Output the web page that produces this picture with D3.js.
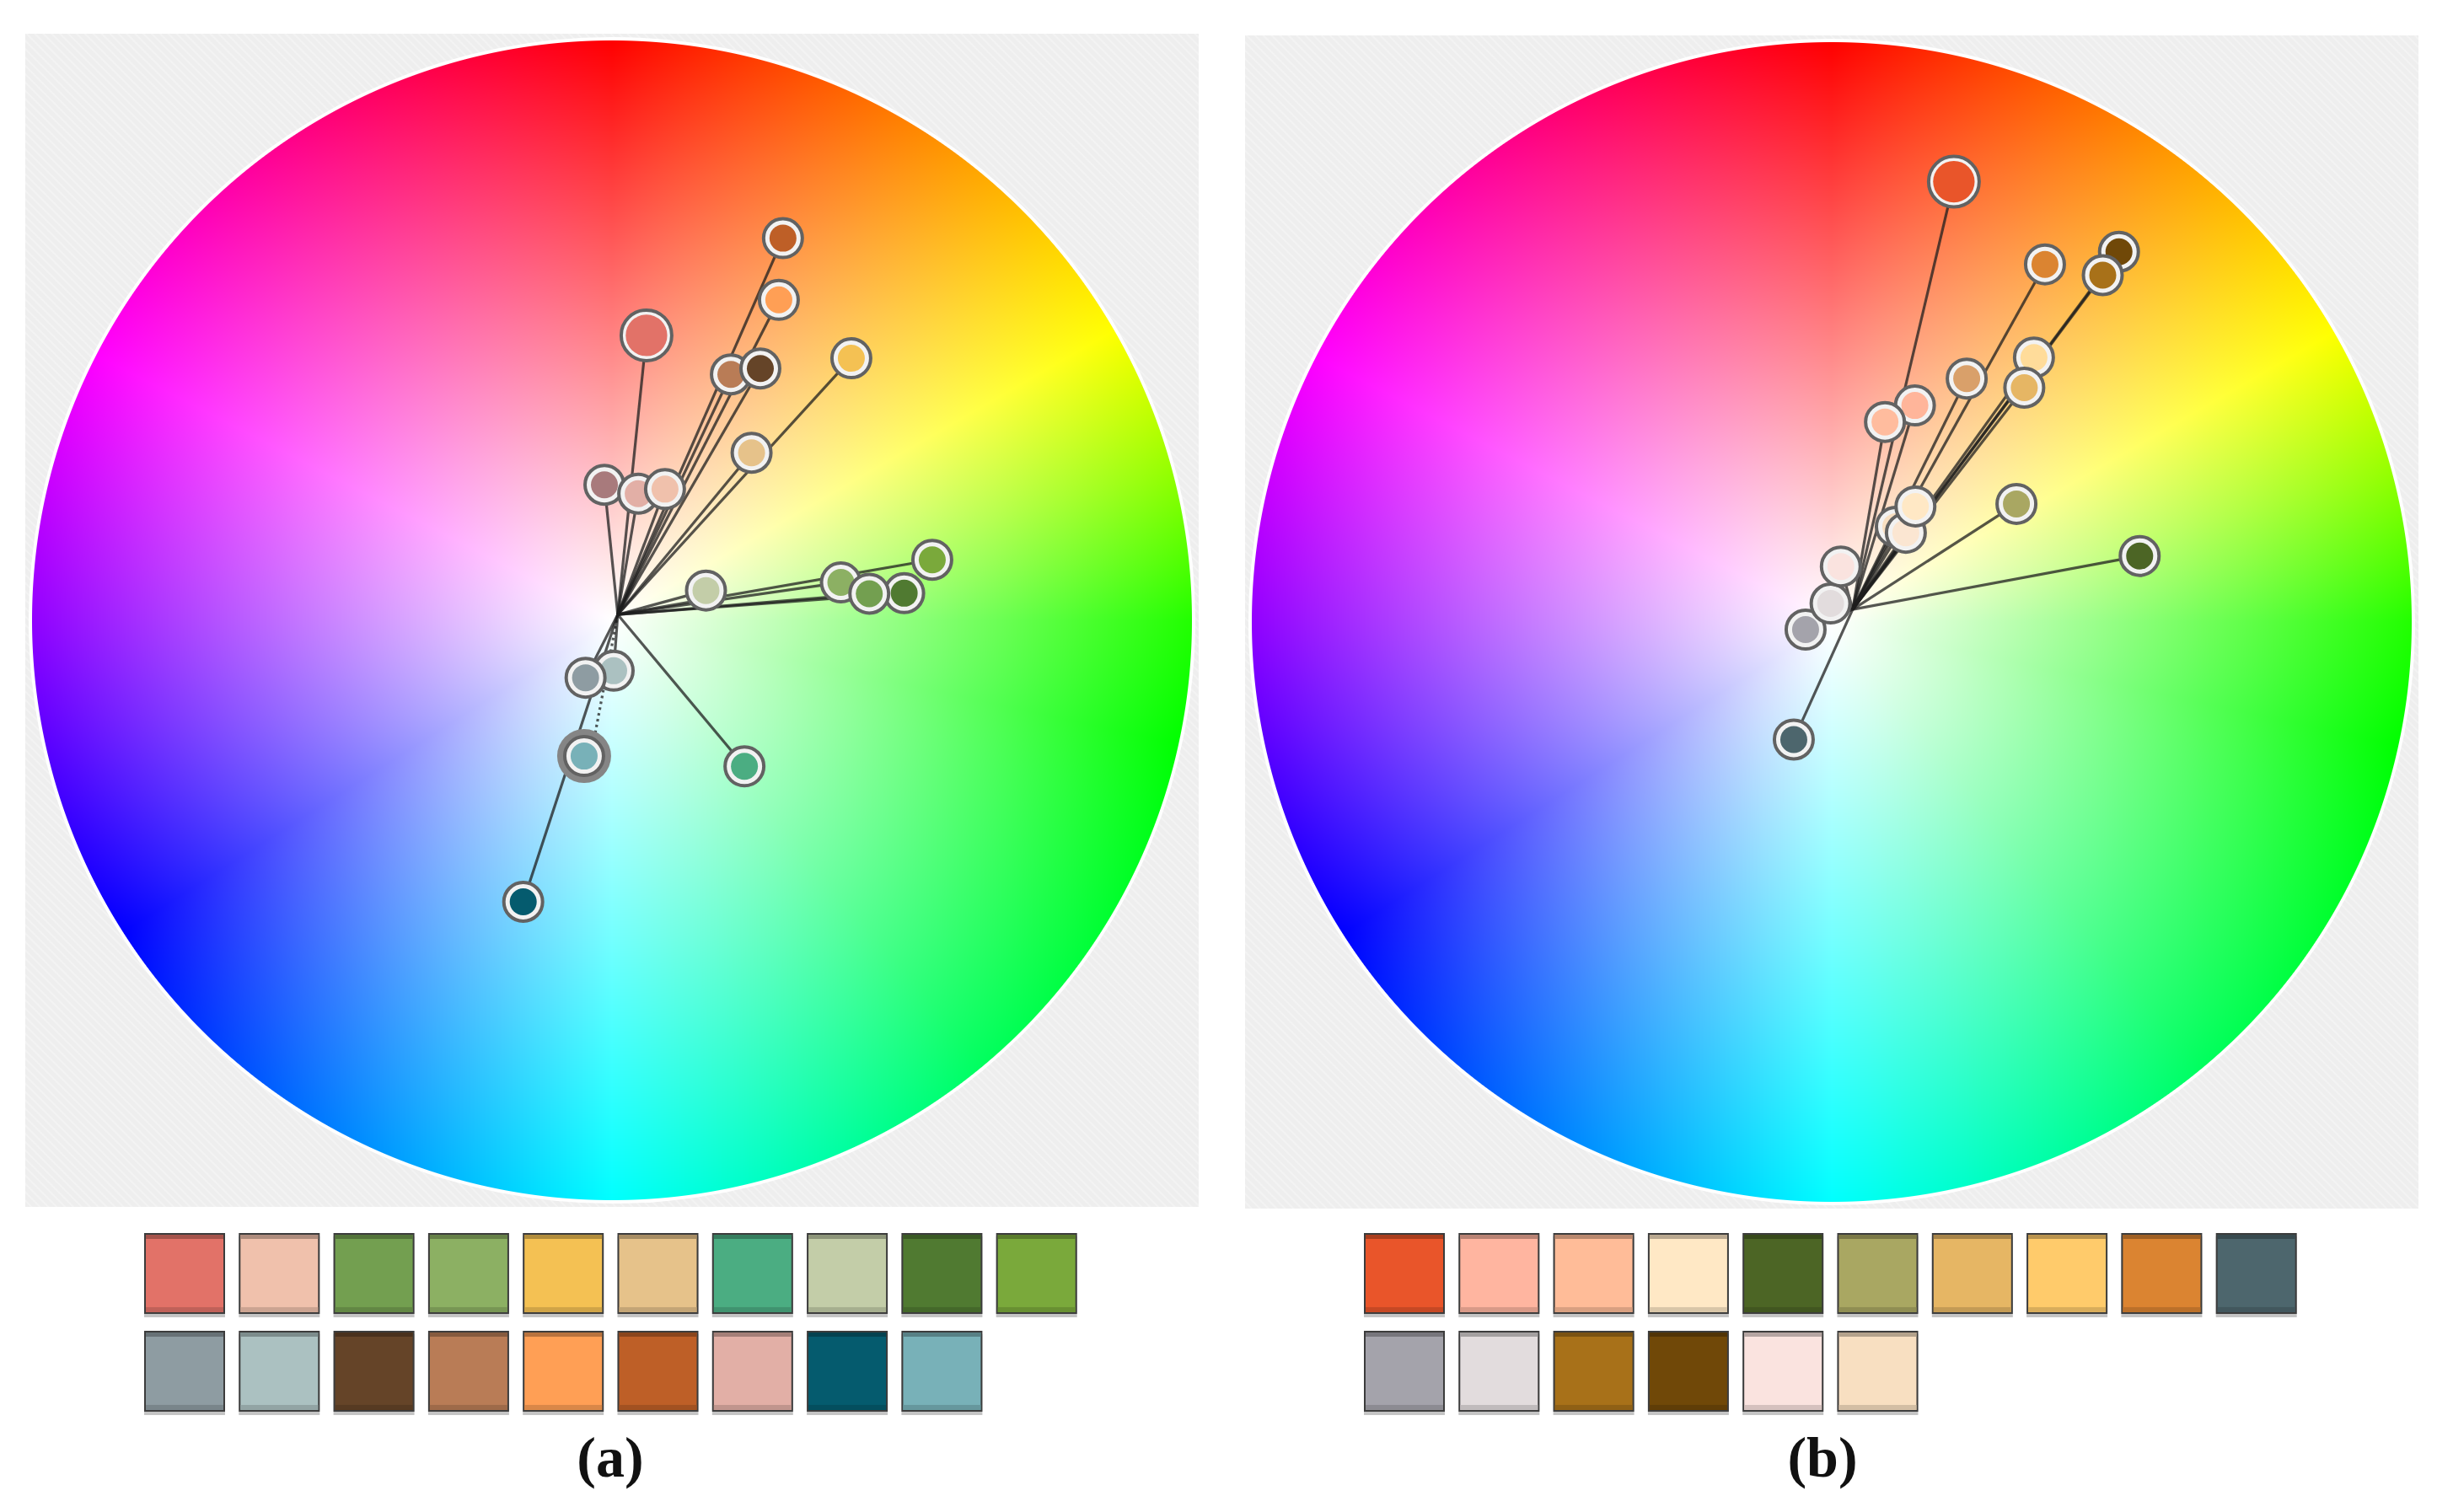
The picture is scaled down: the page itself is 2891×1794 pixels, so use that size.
<!DOCTYPE html>
<html lang="en">
<head>
<meta charset="UTF-8">
<title>Palette hue wheels</title>
<script src="https://d3js.org/d3.v7.min.js"></script>
<style>
  body { margin: 0; background: #ffffff; }
</style>
</head>
<body>
<div id="chart"></div>
<script>
// ---------- data ----------
// palette swatches shown under each wheel
var swatchesA = ["#e27268", "#f0c1ac", "#739f50", "#8cb063", "#f4c153", "#e6c28a", "#4bad82", "#c3cda8", "#507a31", "#7aa93b",
                 "#8e9ca2", "#abc1c1", "#654428", "#b97c56", "#ff9f55", "#be5f27", "#e2afa6", "#055b6e", "#78b1b8"];
var swatchesB = ["#e9552a", "#ffb5a0", "#ffbc98", "#ffe8c5", "#4c6525", "#a9a762", "#e6b664", "#ffcb6b", "#db8431", "#4d666d",
                 "#a4a3ab", "#e2dcdd", "#a87119", "#704808", "#fae3df", "#f8dfc1"];

// nodes on the wheel: hue (degrees, clockwise from top), saturation (0..1), fill, weight
var nodeColorA = ["#be5f27", "#ff9f55", "#e27268", "#b97c56", "#654428", "#f4c153", "#e6c28a", "#a87a7c", "#e2afa6", "#f0c1ac",
                  "#c3cda8", "#8cb063", "#507a31", "#7aa93b", "#739f50", "#abc1c1", "#8e9ca2", "#78b1b8", "#4bad82", "#055b6e"];
var nodeHueA = [24.1, 27.5, 6.9, 25.8, 30.5, 42.4, 39.8, 356.8, 11.7, 22.0,
                72.4, 80.6, 84.7, 79.3, 84.1, 178.1, 204.7, 191.6, 137.8, 197.5];
var nodeSatA = [0.722, 0.623, 0.495, 0.471, 0.504, 0.612, 0.376, 0.234, 0.223, 0.244,
                0.170, 0.400, 0.506, 0.562, 0.446, 0.087, 0.109, 0.239, 0.340, 0.509];
var nodeWeightA = [1, 1, 2, 1, 1, 1, 1, 1, 1, 1, 1, 1, 1, 1, 1, 1, 1, 1, 1, 1];
var focusA = 17;
var hubA = [45, 0.014];

var nodeColorB = ["#e9552a", "#db8431", "#704808", "#a87119", "#ffdc9a", "#e6b664", "#d9a06a", "#ffb59a", "#ffbc9e", "#a9a762",
                  "#4c6525", "#f8dfc1", "#fbe6d2", "#ffe8c5", "#a4a3ab", "#e2dcdd", "#fae3df", "#4d666d"];
var nodeHueB = [15.5, 30.8, 37.8, 38.0, 37.4, 39.4, 29.0, 21.0, 14.9, 57.4,
                77.9, 33.9, 39.7, 35.9, 253.8, 356.4, 9.3, 197.9];
var nodeSatB = [0.788, 0.718, 0.808, 0.759, 0.574, 0.523, 0.480, 0.400, 0.357, 0.378,
                0.543, 0.198, 0.200, 0.246, 0.047, 0.032, 0.097, 0.213];
var nodeWeightB = [2, 1, 1, 1, 1, 1, 1, 1, 1, 1, 1, 1, 1, 1, 1, 1, 1, 1];
var focusB = -1;
var hubB = [59, 0.042];

var labels = ["(a)", "(b)"];

// wheel position angle -> painted hue (the wheel widens the green band)
var wheelAngles = [0, 60, 75, 90, 110, 140, 180, 270, 360];
var wheelHues   = [0, 60, 85, 112, 125, 142, 180, 274, 360];

// ---------- layout ----------
var width = 2891, height = 1794;
var R = 688;
var panels = [
    {x: 30, y: 40, label: labels[0], swatches: swatchesA, colors: nodeColorA, hue: nodeHueA, sat: nodeSatA,
     weight: nodeWeightA, focus: focusA, hub: hubA, swX: 172, labelX: 724},
    {x: 1477, y: 42, label: labels[1], swatches: swatchesB, colors: nodeColorB, hue: nodeHueB, sat: nodeSatB,
     weight: nodeWeightB, focus: focusB, hub: hubB, swX: 1619, labelX: 2162}
];
var boxSize = 1392;

var svg = d3.select("#chart")
    .append("svg")
    .attr("width", width)
    .attr("height", height);

var defs = svg.append("defs");
var hatch = defs.append("pattern")
    .attr("id", "hatch")
    .attr("width", 7)
    .attr("height", 7)
    .attr("patternUnits", "userSpaceOnUse")
    .attr("patternTransform", "rotate(-45)");
hatch.append("rect").attr("width", 7).attr("height", 7).attr("fill", "#eeeeee");
hatch.append("rect").attr("width", 2).attr("height", 7).attr("fill", "#f3f3f3");

// hue / saturation wheel drawn once on a canvas (value = 1)
var hueAt = d3.scaleLinear().domain(wheelAngles).range(wheelHues);
var size = 2 * R;
var canvas = document.createElement("canvas");
canvas.width = size;
canvas.height = size;
var ctx = canvas.getContext("2d");
var img = ctx.createImageData(size, size);
function channel(n, h, s) {
    var k = (n + h / 60) % 6;
    return 255 * (1 - s * Math.max(0, Math.min(k, 4 - k, 1)));
}
for (var py = 0; py < size; py++) {
    for (var px = 0; px < size; px++) {
        var dx = px + 0.5 - R, dy = py + 0.5 - R;
        var d = Math.sqrt(dx * dx + dy * dy);
        if (d > R + 1) continue;
        var h = hueAt((Math.atan2(dx, -dy) * 180 / Math.PI + 360) % 360) % 360;
        var s = Math.min(1, d / R);
        var k = (py * size + px) * 4;
        img.data[k] = channel(5, h, s);
        img.data[k + 1] = channel(3, h, s);
        img.data[k + 2] = channel(1, h, s);
        img.data[k + 3] = 255 * Math.max(0, Math.min(1, R + 0.5 - d));
    }
}
ctx.putImageData(img, 0, 0);
var wheelUrl = canvas.toDataURL();

var radius = d3.scaleLinear().domain([0, 1]).range([0, R]);
var angle = d3.scaleLinear().domain([0, 360]).range([0, 2 * Math.PI]);
var markerSize = d3.scaleOrdinal().domain([1, 2]).range([25, 32]);

function polar(h, s) {
    var a = angle(h), r = radius(s);
    return [r * Math.sin(a), -r * Math.cos(a)];
}

panels.forEach(function(p) {
    var g = svg.append("g");

    g.append("rect")
        .attr("x", p.x)
        .attr("y", p.y)
        .attr("width", boxSize)
        .attr("height", boxSize)
        .attr("fill", "url(#hatch)");

    var cx = p.x + boxSize / 2, cy = p.y + boxSize / 2;
    var wheel = g.append("g").attr("transform", "translate(" + cx + "," + cy + ")");

    wheel.append("circle")
        .attr("r", R + 4)
        .attr("fill", "#ffffff");

    wheel.append("image")
        .attr("href", wheelUrl)
        .attr("x", -R)
        .attr("y", -R)
        .attr("width", size)
        .attr("height", size);

    var nodes = p.colors.map(function(c, i) {
        var xy = polar(p.hue[i], p.sat[i]);
        return {color: c, x: xy[0], y: xy[1], w: p.weight[i], focus: i === p.focus};
    });
    var hub = polar(p.hub[0], p.hub[1]);

    wheel.selectAll(".stem")
        .data(nodes)
        .enter()
        .append("line")
        .attr("class", "stem")
        .attr("x1", hub[0])
        .attr("y1", hub[1])
        .attr("x2", function(d) { return d.focus ? d.x + 8 : d.x; })
        .attr("y2", function(d) { return d.y; })
        .attr("stroke", "#1e1e1e")
        .attr("stroke-opacity", 0.75)
        .attr("stroke-width", 3.2)
        .attr("stroke-dasharray", function(d) { return d.focus ? "3,4" : null; });

    var node = wheel.selectAll(".node")
        .data(nodes)
        .enter()
        .append("g")
        .attr("class", "node")
        .attr("transform", function(d) { return "translate(" + d.x + "," + d.y + ")"; });

    node.filter(function(d) { return d.focus; })
        .append("circle")
        .attr("r", 32)
        .attr("fill", "#858585");

    node.append("circle")
        .attr("r", function(d) { return markerSize(d.w) - 2; })
        .attr("fill", "#f2f2f2")
        .attr("stroke", "#626262")
        .attr("stroke-width", 4);

    node.append("circle")
        .attr("r", function(d) { return markerSize(d.w) * (d.w === 2 ? 0.77 : 0.64); })
        .attr("fill", function(d) { return d.color; });

    // swatches
    var col = d3.scaleBand()
        .domain(d3.range(10))
        .range([p.swX, p.swX + 112.3 * (10 - 0.163)])
        .paddingInner(0.163);
    var row = d3.scaleBand()
        .domain([0, 1])
        .range([1464, 1464 + 116 * (2 - 0.19)])
        .paddingInner(0.19);

    var sw = g.selectAll(".swatch")
        .data(p.swatches)
        .enter()
        .append("g")
        .attr("class", "swatch")
        .attr("transform", function(d, i) {
            return "translate(" + col(i % 10) + "," + row(Math.floor(i / 10)) + ")";
        });

    var bw = col.bandwidth(), bh = row.bandwidth();

    sw.append("rect")
        .attr("x", -1)
        .attr("y", 3)
        .attr("width", bw + 2)
        .attr("height", bh + 2)
        .attr("fill", "#c4c4c4");

    sw.append("rect")
        .attr("width", bw)
        .attr("height", bh)
        .attr("fill", function(d) { return d; })
        .attr("stroke", "#3c3c3c")
        .attr("stroke-width", 2);

    sw.append("rect")
        .attr("x", 1)
        .attr("y", 1)
        .attr("width", bw - 2)
        .attr("height", 5)
        .attr("fill", function(d) { return d3.color(d).darker(0.9); });

    sw.append("rect")
        .attr("x", 1)
        .attr("y", bh - 7)
        .attr("width", bw - 2)
        .attr("height", 6)
        .attr("fill", function(d) { return d3.color(d).darker(0.45); });

    g.append("text")
        .attr("x", p.labelX)
        .attr("y", 1752)
        .attr("text-anchor", "middle")
        .attr("font-family", "'Liberation Serif', 'DejaVu Serif', serif")
        .attr("font-weight", "bold")
        .attr("font-size", "68px")
        .attr("fill", "#111111")
        .text(p.label);
});
</script>
</body>
</html>
